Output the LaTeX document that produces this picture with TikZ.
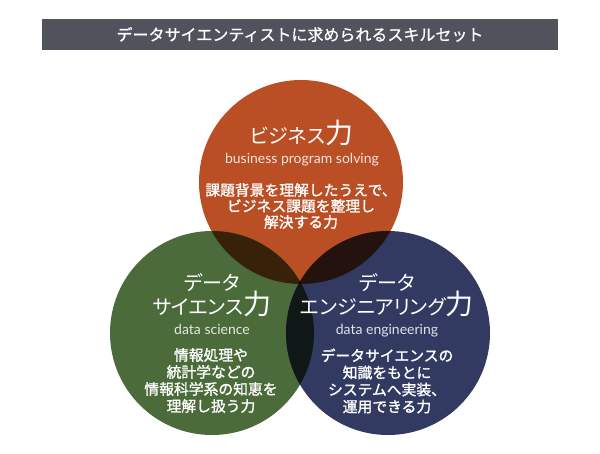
\documentclass[tikz,border=0pt]{standalone}
\usepackage{fontspec}
\newfontfamily\jp{Noto Sans CJK JP}
\newfontfamily\jpb[FakeBold=1.4]{Noto Sans CJK JP}
\newfontfamily\jpbar[FakeBold=0.8]{Noto Sans CJK JP}
\newfontfamily\jpp[RawFeature=+palt]{Noto Sans CJK JP}
\newfontfamily\lat{Lato}
\definecolor{barc}{RGB}{81,83,92}
\definecolor{cO}{RGB}{186,78,36}
\definecolor{cG}{RGB}{76,107,58}
\definecolor{cN}{RGB}{50,58,98}
\definecolor{cOG}{RGB}{55,33,8}
\definecolor{cON}{RGB}{36,18,14}
\definecolor{cGN}{RGB}{15,24,22}
\definecolor{cAll}{RGB}{11,7,3}
\newcommand\Chik{{\fontsize{28}{28}\selectfont 力}}
\tikzset{
  titlebar/.style={fill=barc, minimum width=516pt, minimum height=31pt, inner sep=0pt, text=white, font=\jpbar\fontsize{16}{16}\selectfont},
  disc/.style={circle, minimum size=204pt, inner sep=0pt, draw=none},
  ttl/.style={text=white, inner sep=0pt, anchor=base, font=\jpp\fontsize{20}{24}\selectfont},
  sub/.style={text=white, text opacity=0.85, inner sep=0pt, anchor=base, font=\lat\fontsize{14}{16}\selectfont},
  bodytxt/.style={text=white, inner sep=0pt, align=center},
}
\begin{document}
\begin{tikzpicture}[x=1pt,y=-1pt]
\useasboundingbox (0,0) rectangle (600,454);
\node[titlebar] (bar) at (300,34.5) {データサイエンティストに求められるスキルセット};
\coordinate (cb) at (301,182);
\coordinate (cl) at (212,333);
\coordinate (cr) at (388,333);
\node[disc, fill=cO] (biz) at (cb) {};
\node[disc, fill=cG] (sci) at (cl) {};
\node[disc, fill=cN] (eng) at (cr) {};
\begin{scope}
  \clip (cb) circle[radius=102pt];
  \fill[cOG] (cl) circle[radius=102pt];
  \fill[cON] (cr) circle[radius=102pt];
\end{scope}
\begin{scope}
  \clip (cl) circle[radius=102pt];
  \fill[cGN] (cr) circle[radius=102pt];
\end{scope}
\begin{scope}
  \clip (cb) circle[radius=102pt];
  \clip (cl) circle[radius=102pt];
  \fill[cAll] (cr) circle[radius=102pt];
\end{scope}
% top circle texts
\node[ttl] (bt) at (302,144) {ビジネス\Chik};
\node[sub] (bs) at (302,164) {business program solving};
\node[bodytxt, font=\jpb\fontsize{14.8}{16}\selectfont] (bb) at (301,206) {課題背景を理解したうえで、\\ビジネス課題を整理し\\解決する力};
% left circle texts
\node[ttl] (st1) at (212,291) {データ};
\node[ttl] (st2) at (212,315) {サイエンス\Chik};
\node[sub] (ss) at (212,335) {data science};
\node[bodytxt, font=\jpb\fontsize{14.8}{17}\selectfont] (sb) at (211,380.5) {情報処理や\\統計学などの\\情報科学系の知恵を\\理解し扱う力};
% right circle texts
\node[ttl] (et1) at (387,291) {データ};
\node[ttl] (et2) at (387,315) {エンジニアリング\Chik};
\node[sub] (es) at (387,335) {data engineering};
\node[bodytxt, font=\jpb\fontsize{14.8}{17}\selectfont] (eb) at (387,381) {データサイエンスの\\知識をもとに\\システムへ実装、\\運用できる力};
\end{tikzpicture}
\end{document}
